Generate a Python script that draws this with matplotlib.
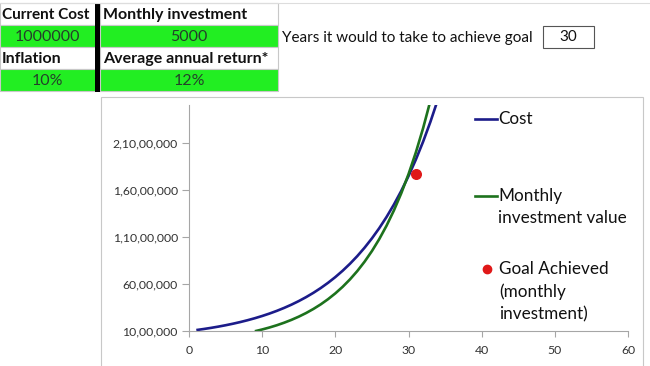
import matplotlib
matplotlib.use('Agg')
import matplotlib.pyplot as plt
from matplotlib.patches import Rectangle
from matplotlib.lines import Line2D
from matplotlib.ticker import FuncFormatter

# inputs shown in the sheet
current_cost = 1000000
monthly_investment = 5000
inflation = '10%'
annual_return = '12%'
years_to_goal = 30

# cost curve (years 1..34)
cost_years = list(range(1, 35))
cost_values = [1100000, 1210000, 1331000, 1464000, 1611000, 1772000, 1949000, 2144000,
               2358000, 2594000, 2853000, 3138000, 3452000, 3797000, 4177000, 4595000,
               5054000, 5560000, 6116000, 6727000, 7400000, 8140000, 8954000, 9850000,
               10835000, 11918000, 13110000, 14421000, 15863000, 17449000, 19194000,
               21114000, 23225000, 25548000]

# monthly investment value curve (years 9..33)
inv_years = list(range(9, 34))
inv_values = [974000, 1162000, 1373000, 1611000, 1880000, 2182000, 2523000, 2907000,
              3340000, 3827000, 4377000, 4996000, 5693000, 6480000, 7365000, 8364000,
              9488000, 10756000, 12184000, 13794000, 15607000, 17650000, 19953000,
              22548000, 25471000]

goal_x = [31]
goal_y = [17650000]

W, H = 650, 366
def fx(px):
    return px / W
def fy(py):
    return 1 - py / H

plt.rcParams['font.family'] = ['Lato', 'DejaVu Sans']

fig = plt.figure(figsize=(6.5, 3.66), dpi=100)
fig.patch.set_facecolor('white')

# ---- spreadsheet table ----
green = '#22ee22'
grid = '#c8c8c8'
txt_green = '#24402a'

def cell(x0, y0, x1, y1, fc):
    fig.patches.append(Rectangle((fx(x0), fy(y1)), fx(x1) - fx(x0), fy(y0) - fy(y1),
                                 transform=fig.transFigure, facecolor=fc,
                                 edgecolor=grid, lw=0.8))

cell(0, 3, 96, 25, 'white')
cell(100, 3, 278, 25, 'white')
cell(0, 25, 96, 47, green)
cell(100, 25, 278, 47, green)
cell(0, 47, 96, 69, 'white')
cell(100, 47, 278, 69, 'white')
cell(0, 69, 96, 91, green)
cell(100, 69, 278, 91, green)
# thick black column separator
fig.patches.append(Rectangle((fx(95), fy(92)), fx(5), fy(3) - fy(92),
                             transform=fig.transFigure, facecolor='black', edgecolor='none'))
fig.lines.append(Line2D([0, 1], [fy(3), fy(3)], transform=fig.transFigure, color='#dddddd', lw=0.8))

fs_tab = 11.5
fig.text(fx(2), fy(15), 'Current Cost', fontsize=11, fontweight='bold', va='center', color='#111111')
fig.text(fx(103), fy(15), 'Monthly investment', fontsize=fs_tab, fontweight='bold', va='center', color='#111111')
fig.text(fx(2), fy(59), 'Inflation', fontsize=fs_tab, fontweight='bold', va='center', color='#111111')
fig.text(fx(103), fy(59), 'Average annual return*', fontsize=fs_tab, fontweight='bold', va='center', color='#111111')
fig.text(fx(47), fy(37), str(current_cost), fontsize=fs_tab, ha='center', va='center', color=txt_green)
fig.text(fx(189), fy(37), str(monthly_investment), fontsize=fs_tab, ha='center', va='center', color=txt_green)
fig.text(fx(47), fy(81), inflation, fontsize=fs_tab, ha='center', va='center', color=txt_green)
fig.text(fx(189), fy(81), annual_return, fontsize=fs_tab, ha='center', va='center', color=txt_green)

fig.text(fx(282), fy(38), 'Years it would to take to achieve goal', fontsize=11,
         va='center', color='#111111')
fig.patches.append(Rectangle((fx(543), fy(48)), fx(594) - fx(543), fy(26) - fy(48),
                             transform=fig.transFigure, facecolor='white', edgecolor='#555555', lw=0.8))
fig.text(fx(568), fy(37), str(years_to_goal), fontsize=11, ha='center', va='center', color='#111111')

# ---- chart box (behind the axes) ----
fig.patches.append(Rectangle((fx(101), fy(368)), fx(643) - fx(101), fy(97) - fy(368),
                             transform=fig.transFigure, facecolor='white', edgecolor='#c8c8c8',
                             lw=0.8, zorder=-1))

ax = fig.add_axes([fx(189), fy(331), fx(628) - fx(189), fy(105) - fy(331)])
ax.patch.set_alpha(0)
ax.plot(cost_years, cost_values, color='#1c1c8a', lw=1.9, solid_capstyle='butt')
ax.plot(inv_years, inv_values, color='#1d721d', lw=1.9, solid_capstyle='butt')
ax.scatter(goal_x, goal_y, s=48, color='#e01818', zorder=5)

ax.set_xlim(0, 60)
ax.set_ylim(1000000, 25000000)
ax.set_xticks(range(0, 61, 10))
ax.set_yticks(range(1000000, 21000001, 5000000))

def indian(v, pos):
    s = str(int(round(v)))
    if len(s) <= 3:
        return s
    head, tail = s[:-3], s[-3:]
    parts = []
    while len(head) > 2:
        parts.insert(0, head[-2:])
        head = head[:-2]
    if head:
        parts.insert(0, head)
    return ','.join(parts) + ',' + tail

ax.yaxis.set_major_formatter(FuncFormatter(indian))
for s in ['top', 'right']:
    ax.spines[s].set_visible(False)
for s in ['left', 'bottom']:
    ax.spines[s].set_color('#a6a6a6')
    ax.spines[s].set_linewidth(0.8)
ax.tick_params(axis='y', direction='out', length=5, width=0.8, color='#a6a6a6',
               labelsize=8.8, labelcolor='#333333', pad=3)
ax.tick_params(axis='x', direction='out', length=4, width=0.8, color='#a6a6a6',
               labelsize=8.8, labelcolor='#333333', pad=6)

# ---- legend (drawn as in the Excel chart) ----
fs_leg = 12.3
fig.lines.append(Line2D([fx(475), fx(497)], [fy(119), fy(119)], transform=fig.transFigure,
                        color='#1c1c8a', lw=1.9))
fig.text(fx(498), fy(119), 'Cost', fontsize=fs_leg, va='center', color='#111111')
fig.lines.append(Line2D([fx(475), fx(497)], [fy(196), fy(196)], transform=fig.transFigure,
                        color='#1d721d', lw=1.9))
fig.text(fx(498), fy(196), 'Monthly', fontsize=fs_leg, va='center', color='#111111')
fig.text(fx(498), fy(218), 'investment value', fontsize=fs_leg, va='center', color='#111111')
fig.lines.append(Line2D([fx(487)], [fy(269)], transform=fig.transFigure, marker='o',
                        markersize=6, color='#e01818', lw=0))
fig.text(fx(499), fy(269), 'Goal Achieved', fontsize=fs_leg, va='center', color='#111111')
fig.text(fx(499), fy(292), '(monthly', fontsize=fs_leg, va='center', color='#111111')
fig.text(fx(499), fy(314), 'investment)', fontsize=fs_leg, va='center', color='#111111')

fig.savefig('out.png', dpi=100, facecolor='white')
